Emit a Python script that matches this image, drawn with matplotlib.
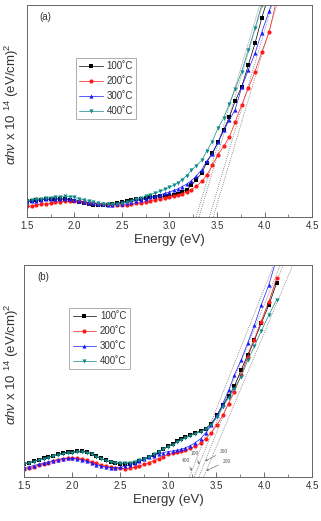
import matplotlib
matplotlib.use("Agg")
import matplotlib.pyplot as plt
import numpy as np

plt.rcParams['font.family'] = ['Liberation Sans', 'DejaVu Sans']
plt.rcParams['mathtext.fontset'] = 'custom'
plt.rcParams['mathtext.rm'] = 'Liberation Sans'
plt.rcParams['mathtext.it'] = 'Liberation Sans:italic'

# photon energy grid (eV), shared by all samples
energy = [1.50, 1.55, 1.60, 1.65, 1.70, 1.75, 1.80, 1.85, 1.90, 1.95,
          2.00, 2.05, 2.10, 2.15, 2.20, 2.25, 2.30, 2.35, 2.40, 2.45,
          2.50, 2.55, 2.60, 2.65, 2.70, 2.75, 2.80, 2.85, 2.90, 2.95,
          3.00, 3.05, 3.09, 3.13, 3.18, 3.23, 3.28, 3.34, 3.39, 3.45,
          3.51, 3.57, 3.63, 3.69, 3.76, 3.83, 3.90, 3.97, 4.05, 4.13]

labels = ['100˚C', '200˚C', '300˚C', '400˚C']
colors = ['black', '#ff1a1a', '#1a1aff', '#138a8a']
markers = ['s', 'o', '^', 'v']

nan = np.nan
# panel (a), (alpha h nu)^2 in arbitrary units
a_100 = [0.74, 0.77, 0.80, 0.82, 0.83, 0.85, 0.85, 0.85, 0.83, 0.82,
         0.77, 0.71, 0.64, 0.60, 0.57, 0.55, 0.55, 0.57, 0.60, 0.64,
         0.71, 0.75, 0.80, 0.83, 0.86, 0.89, 0.93, 0.94, 0.97, 0.99,
         1.00, 1.05, 1.10, 1.16, 1.29, 1.49, 1.76, 2.07, 2.57, 3.01,
         3.52, 4.11, 4.71, 5.45, 6.15, 7.17, 8.19, 9.37, 10.55, nan]
a_200 = [0.50, 0.53, 0.57, 0.60, 0.63, 0.66, 0.69, 0.72, 0.74, 0.75,
         0.75, 0.74, 0.71, 0.68, 0.64, 0.63, 0.61, 0.60, 0.58, 0.57,
         0.57, 0.58, 0.61, 0.64, 0.68, 0.72, 0.77, 0.82, 0.86, 0.91,
         0.96, 1.00, 1.05, 1.10, 1.18, 1.29, 1.44, 1.68, 1.96, 2.43,
         2.94, 3.33, 3.77, 4.46, 5.29, 6.08, 6.86, 7.76, 8.74, 10.3]
a_300 = [0.71, 0.74, 0.77, 0.80, 0.83, 0.85, 0.86, 0.86, 0.86, 0.85,
         0.82, 0.77, 0.72, 0.68, 0.64, 0.61, 0.60, 0.58, 0.58, 0.60,
         0.63, 0.68, 0.72, 0.77, 0.82, 0.86, 0.93, 0.99, 1.05, 1.11,
         1.18, 1.26, 1.33, 1.43, 1.55, 1.71, 1.92, 2.23, 2.62, 2.98,
         3.52, 4.08, 4.58, 5.05, 6.12, 6.94, 7.72, 8.70, 9.73, 10.8]
a_400 = [0.77, 0.80, 0.83, 0.86, 0.89, 0.91, 0.94, 0.96, 0.97, 0.96,
         0.93, 0.86, 0.80, 0.74, 0.69, 0.64, 0.61, 0.60, 0.60, 0.61,
         0.64, 0.71, 0.77, 0.83, 0.89, 0.97, 1.05, 1.13, 1.21, 1.30,
         1.40, 1.51, 1.62, 1.76, 1.95, 2.20, 2.42, 2.67, 3.09, 3.56,
         4.19, 4.66, 5.34, 6.03, 6.86, 7.88, 8.90, 10.0, 11.1, nan]

# panel (b)
b_100 = [0.61, 0.68, 0.74, 0.82, 0.88, 0.94, 1.01, 1.07, 1.13, 1.17,
         1.20, 1.21, 1.21, 1.18, 1.10, 0.99, 0.88, 0.79, 0.71, 0.66,
         0.63, 0.61, 0.63, 0.68, 0.76, 0.83, 0.93, 1.04, 1.17, 1.31,
         1.45, 1.57, 1.69, 1.78, 1.89, 1.98, 2.08, 2.17, 2.28, 2.52,
         2.91, 3.39, 3.81, 4.28, 5.04, 5.75, 6.46, 7.24, 8.11, 9.13]
b_200 = [0.39, 0.44, 0.49, 0.55, 0.61, 0.68, 0.74, 0.80, 0.85, 0.88,
         0.90, 0.88, 0.85, 0.79, 0.72, 0.65, 0.57, 0.50, 0.46, 0.43,
         0.41, 0.39, 0.41, 0.46, 0.52, 0.60, 0.68, 0.77, 0.87, 0.96,
         1.06, 1.12, 1.17, 1.21, 1.28, 1.35, 1.45, 1.59, 1.81, 2.09,
         2.47, 2.91, 3.46, 4.02, 4.80, 5.67, 6.46, 7.32, 8.27, 9.37]
b_300 = [0.44, 0.49, 0.54, 0.60, 0.66, 0.72, 0.77, 0.82, 0.87, 0.88,
         0.88, 0.85, 0.80, 0.74, 0.66, 0.58, 0.52, 0.47, 0.44, 0.44,
         0.46, 0.50, 0.57, 0.65, 0.74, 0.83, 0.93, 1.01, 1.09, 1.15,
         1.20, 1.23, 1.26, 1.31, 1.37, 1.48, 1.61, 1.81, 2.08, 2.44,
         2.91, 3.46, 4.09, 4.80, 5.51, 6.33, 7.17, 8.11, 9.06, 10.3]
b_400 = [0.60, 0.66, 0.72, 0.79, 0.85, 0.91, 0.98, 1.04, 1.09, 1.13,
         1.15, 1.17, 1.17, 1.13, 1.06, 0.96, 0.87, 0.77, 0.71, 0.66,
         0.65, 0.65, 0.68, 0.72, 0.79, 0.87, 0.96, 1.07, 1.18, 1.31,
         1.42, 1.53, 1.64, 1.73, 1.84, 1.94, 2.03, 2.13, 2.25, 2.47,
         2.83, 3.31, 3.73, 4.17, 4.72, 5.51, 6.17, 6.88, 7.64, 8.35]

# linear fits: energy where fit crosses zero and where it reaches 10
fit_a_start = [3.28, 3.31, 3.42, 3.46]
fit_a_end = [3.95, 3.98, 4.08, 4.13]
fit_b_start = [3.22, 3.27, 3.32, 3.37]
fit_b_end = [4.10, 4.17, 4.20, 4.30]
fit_b_names = ['400', '100', '300', '200']

fig = plt.figure(figsize=(3.21, 5.21), dpi=100)
ax_a = fig.add_axes([0.084, 0.5835, 0.888, 0.407])
ax_b = fig.add_axes([0.076, 0.0845, 0.896, 0.407])

panels = [(ax_a, [a_100, a_200, a_300, a_400], fit_a_start, fit_a_end, '(a)', (0.172, 0.75), -0.021),
          (ax_b, [b_100, b_200, b_300, b_400], fit_b_start, fit_b_end, '(b)', (0.156, 0.797), -0.012)]

for ax, series, f0, f1, tag, leg_pos, ylab_x in panels:
    for e0, e1 in zip(f0, f1):
        ax.plot([e0, e1], [0, 10], ls=(0, (1.5, 1.5)), color='#777777', lw=0.5)
    for vals, lab, c, m in zip(series, labels, colors, markers):
        ax.plot(energy, vals, color=c, marker=m, ms=3, lw=0.5, mew=0, label=lab)
    ax.set_xlim(1.5, 4.5)
    ax.set_ylim(0, 10)
    ax.set_xticks([1.5, 2.0, 2.5, 3.0, 3.5, 4.0, 4.5])
    ax.set_xticks(np.arange(1.75, 4.5, 0.5), minor=True)
    ax.set_yticks([])
    ax.tick_params(axis='x', which='major', direction='in', length=3.5, width=0.6,
                   labelsize=7, labelcolor='#333333', color='#555555', pad=3)
    ax.tick_params(axis='x', which='minor', direction='in', length=2, width=0.5, color='#555555')
    for sp in ax.spines.values():
        sp.set_color('#666666')
        sp.set_linewidth(0.7)
    ax.set_xlabel('Energy (eV)', fontsize=9.5, color='#333333', labelpad=2)
    ax.set_ylabel(r'$\alpha h\nu$ x 10 $^{14}$ (eV/cm)$^2$', fontsize=9.5, color='#333333')
    ax.yaxis.set_label_coords(ylab_x, 0.53)
    ax.text(0.045, 0.93, tag, transform=ax.transAxes, fontsize=7, color='#333333')
    leg = ax.legend(loc='upper left', bbox_to_anchor=leg_pos, fontsize=7, frameon=True,
                    fancybox=False, edgecolor='#888888', handlelength=2.4, handletextpad=0.4,
                    borderpad=0.35, labelspacing=0.5, borderaxespad=0)
    leg.get_frame().set_linewidth(0.6)
    for t in leg.get_texts():
        t.set_color('#333333')

# labels on the fit lines of panel (b)
label_pos = [(3.186, 0.79), (3.28, 1.12), (3.58, 1.21), (3.61, 0.74)]
arrow_to = [(3.246, 0.3), (3.324, 0.6), (3.386, 0.75), (3.398, 0.3)]
for name, p, q in zip(fit_b_names, label_pos, arrow_to):
    ax_b.annotate(name, xy=q, xytext=p, fontsize=3.5, color='#555555', ha='center', va='center',
                  arrowprops=dict(arrowstyle='->', color='#555555', lw=0.4, shrinkA=1, shrinkB=0,
                                  mutation_scale=3))

fig.savefig('out.png', dpi=100)
